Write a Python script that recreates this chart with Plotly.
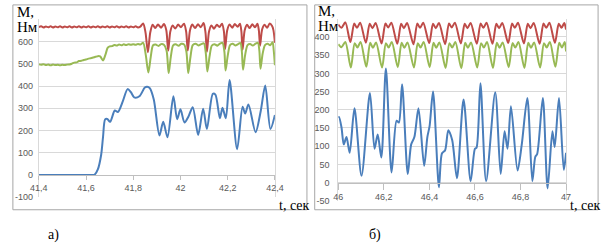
import plotly.graph_objects as go

# ---------------- panel a) ----------------
a_t_red = [41.400, 41.410, 41.420, 41.430, 41.440, 41.450, 41.460, 41.470, 41.480, 41.490,
           41.500, 41.510, 41.520, 41.530, 41.540, 41.550, 41.560, 41.570, 41.580, 41.590,
           41.600, 41.610, 41.620, 41.630, 41.640, 41.650, 41.660, 41.670, 41.680, 41.690,
           41.700, 41.710, 41.720, 41.730, 41.740, 41.750, 41.760, 41.770, 41.780, 41.790,
           41.800, 41.810, 41.820, 41.830, 41.842, 41.852, 41.862, 41.872, 41.882, 41.893,
           41.905, 41.918, 41.930, 41.940, 41.948, 41.957, 41.967, 41.978, 41.990, 42.002,
           42.015, 42.024, 42.031, 42.040, 42.050, 42.062, 42.074, 42.086, 42.098, 42.106,
           42.112, 42.121, 42.131, 42.142, 42.154, 42.165, 42.176, 42.184, 42.189, 42.198,
           42.208, 42.219, 42.230, 42.242, 42.252, 42.258, 42.263, 42.272, 42.282, 42.293,
           42.304, 42.316, 42.326, 42.332, 42.337, 42.346, 42.356, 42.367, 42.378, 42.388,
           42.394, 42.400]
a_red = [664, 668, 663, 667, 664, 668, 663, 667, 664, 668,
         663, 667, 664, 668, 663, 667, 664, 668, 663, 667,
         664, 668, 663, 667, 664, 668, 663, 667, 664, 668,
         663, 667, 664, 668, 663, 667, 664, 668, 663, 667,
         664, 668, 663, 667, 681, 640, 552, 640, 675, 660,
         676, 662, 678, 650, 559, 645, 672, 658, 676, 664,
         680, 645, 559, 648, 676, 660, 677, 664, 683, 640,
         554, 645, 672, 657, 675, 665, 680, 645, 566, 650,
         676, 662, 678, 666, 680, 645, 563, 650, 675, 660,
         677, 664, 680, 650, 581, 655, 675, 662, 681, 670,
         650, 594]

a_t_green = [41.400, 41.410, 41.420, 41.430, 41.440, 41.450, 41.460, 41.470, 41.480, 41.490,
             41.500, 41.510, 41.520, 41.530, 41.540, 41.550, 41.560, 41.570, 41.580, 41.590,
             41.600, 41.610, 41.620, 41.630, 41.640, 41.650, 41.660, 41.672, 41.682, 41.692,
             41.700, 41.710, 41.720, 41.730, 41.740, 41.750, 41.760, 41.770, 41.780, 41.790,
             41.800, 41.810, 41.820, 41.830, 41.842, 41.853, 41.864, 41.874, 41.884, 41.895,
             41.907, 41.918, 41.930, 41.941, 41.950, 41.959, 41.969, 41.980, 41.992, 42.004,
             42.016, 42.025, 42.033, 42.042, 42.052, 42.064, 42.076, 42.088, 42.099, 42.107,
             42.114, 42.123, 42.133, 42.144, 42.156, 42.167, 42.178, 42.186, 42.191, 42.200,
             42.210, 42.221, 42.232, 42.244, 42.254, 42.260, 42.265, 42.274, 42.284, 42.295,
             42.306, 42.318, 42.328, 42.334, 42.339, 42.348, 42.358, 42.369, 42.380, 42.390,
             42.395, 42.400]
a_green = [497, 495, 498, 494, 496, 493, 496, 494, 495, 493,
           495, 494, 496, 497, 500, 505, 506, 512, 513, 517,
           519, 523, 525, 528, 531, 534, 533, 515, 540, 572,
           578, 579, 584, 582, 586, 583, 587, 584, 588, 585,
           588, 585, 589, 586, 594, 540, 461, 530, 583, 586,
           580, 588, 585, 560, 458, 530, 582, 587, 581, 590,
           586, 555, 458, 528, 584, 590, 582, 588, 592, 550,
           465, 532, 582, 588, 581, 590, 594, 555, 470, 535,
           584, 590, 582, 588, 593, 555, 473, 540, 584, 589,
           582, 590, 594, 560, 478, 545, 584, 590, 583, 597,
           560, 493]

a_t_blue = [41.400, 41.500, 41.600, 41.625, 41.637, 41.650, 41.664, 41.672, 41.681, 41.690,
            41.702, 41.722, 41.735, 41.756, 41.776, 41.790, 41.804, 41.826, 41.849, 41.859,
            41.870, 41.887, 41.911, 41.927, 41.945, 41.970, 41.986, 42.000, 42.017, 42.034,
            42.052, 42.075, 42.096, 42.112, 42.137, 42.148, 42.167, 42.178, 42.192, 42.208,
            42.240, 42.263, 42.274, 42.288, 42.318, 42.340, 42.359, 42.381, 42.400]
a_blue = [0, 0, 0, 0, 2, 25, 90, 170, 250, 252,
          239, 290, 283, 332, 386, 372, 349, 354, 393, 397,
          390, 339, 178, 239, 170, 354, 251, 295, 236, 263,
          305, 180, 298, 207, 365, 361, 255, 302, 255, 427,
          116, 307, 277, 317, 192, 288, 402, 207, 270]

a_xticks = [41.4, 41.6, 41.8, 42.0, 42.2, 42.4]
a_xtext = ["41,4", "41,6", "41,8", "42", "42,2", "42,4"]
a_yticks = [-100, 0, 100, 200, 300, 400, 500, 600]
a_ytext = ["-100", "0", "100", "200", "300", "400", "500", "600"]

# ---------------- panel б) ----------------
b_t_red = [46.000, 46.014, 46.031, 46.053, 46.070, 46.082, 46.096, 46.121, 46.138, 46.150,
           46.164, 46.190, 46.207, 46.219, 46.233, 46.259, 46.276, 46.288, 46.302, 46.330,
           46.347, 46.359, 46.373, 46.399, 46.416, 46.428, 46.442, 46.469, 46.486, 46.498,
           46.512, 46.538, 46.555, 46.567, 46.581, 46.608, 46.625, 46.637, 46.651, 46.677,
           46.694, 46.706, 46.720, 46.746, 46.763, 46.775, 46.789, 46.815, 46.832, 46.844,
           46.858, 46.884, 46.901, 46.913, 46.927, 46.951, 46.968, 46.980, 46.992, 47.000]
b_red = [434, 425, 440, 386, 437, 425, 439, 384, 436, 424,
         438, 382, 437, 426, 439, 381, 436, 424, 438, 380,
         437, 425, 439, 383, 436, 424, 438, 380, 437, 426,
         439, 382, 436, 424, 438, 381, 437, 425, 439, 381,
         436, 424, 438, 383, 437, 425, 439, 382, 436, 424,
         438, 381, 437, 425, 439, 384, 436, 425, 438, 420]

b_t_green = [46.000, 46.014, 46.031, 46.055, 46.072, 46.084, 46.098, 46.123, 46.140, 46.152,
             46.166, 46.192, 46.209, 46.221, 46.235, 46.261, 46.278, 46.290, 46.304, 46.332,
             46.349, 46.361, 46.375, 46.401, 46.418, 46.430, 46.444, 46.471, 46.488, 46.500,
             46.514, 46.540, 46.557, 46.569, 46.583, 46.610, 46.627, 46.639, 46.653, 46.679,
             46.696, 46.708, 46.722, 46.748, 46.765, 46.777, 46.791, 46.817, 46.834, 46.846,
             46.860, 46.886, 46.903, 46.915, 46.929, 46.953, 46.970, 46.982, 46.994, 47.000]
b_green = [380, 372, 386, 316, 383, 371, 386, 318, 384, 370,
           385, 316, 383, 371, 386, 317, 384, 370, 385, 316,
           383, 371, 386, 317, 384, 370, 385, 315, 383, 371,
           386, 314, 384, 370, 385, 316, 383, 371, 386, 315,
           384, 370, 385, 317, 383, 371, 386, 315, 384, 370,
           385, 316, 383, 371, 386, 318, 384, 371, 386, 360]

b_t_blue = [46.000, 46.003, 46.014, 46.024, 46.036, 46.050, 46.071, 46.102, 46.139, 46.159,
            46.173, 46.189, 46.209, 46.234, 46.256, 46.266, 46.280, 46.305, 46.320, 46.334,
            46.352, 46.377, 46.391, 46.401, 46.416, 46.442, 46.455, 46.469, 46.483, 46.500,
            46.521, 46.550, 46.581, 46.600, 46.607, 46.624, 46.649, 46.689, 46.713, 46.730,
            46.743, 46.758, 46.787, 46.805, 46.830, 46.852, 46.865, 46.873, 46.898, 46.919,
            46.940, 46.950, 46.969, 46.990, 47.000]
b_blue = [178, 180, 152, 105, 125, 82, 204, 19, 246, 93,
          132, 69, 313, 28, 170, 165, 270, 24, 105, 125,
          204, 46, 125, 156, 250, -13, 80, 89, 144, 117,
          12, 228, 4, 93, 96, 273, 4, 248, 24, 141,
          93, 210, 33, 102, 232, 4, 71, 78, 232, -16,
          141, 98, 232, 35, 82]

b_xticks = [46.0, 46.2, 46.4, 46.6, 46.8, 47.0]
b_xtext = ["46", "46,2", "46,4", "46,6", "46,8", "47"]
b_yticks = [-50, 0, 50, 100, 150, 200, 250, 300, 350, 400]
b_ytext = ["-50", "0", "50", "100", "150", "200", "250", "300", "350", "400"]

BLUE = "#4a7ebb"
RED = "#be4b48"
GREEN = "#98b954"
W, H = 610, 252

def px(x):
    return x / W

def py(y):
    return 1 - y / H

fig = go.Figure()
line_kw = dict(shape="spline", smoothing=0.8, width=2)
fig.add_trace(go.Scatter(x=a_t_red, y=a_red, mode="lines", line=dict(color=RED, **line_kw), xaxis="x", yaxis="y"))
fig.add_trace(go.Scatter(x=a_t_green, y=a_green, mode="lines", line=dict(color=GREEN, **line_kw), xaxis="x", yaxis="y"))
fig.add_trace(go.Scatter(x=a_t_blue, y=a_blue, mode="lines", line=dict(color=BLUE, **line_kw), xaxis="x", yaxis="y"))
fig.add_trace(go.Scatter(x=b_t_red, y=b_red, mode="lines", line=dict(color=RED, **line_kw), xaxis="x2", yaxis="y2"))
fig.add_trace(go.Scatter(x=b_t_green, y=b_green, mode="lines", line=dict(color=GREEN, **line_kw), xaxis="x2", yaxis="y2"))
fig.add_trace(go.Scatter(x=b_t_blue, y=b_blue, mode="lines", line=dict(color=BLUE, **line_kw), xaxis="x2", yaxis="y2"))

tickfont = dict(family="Liberation Sans, Arial, sans-serif", size=9, color="#595959")
grid = "#d9d9d9"

xa = dict(showgrid=False, zeroline=False, showline=True, linecolor="#bfbfbf", linewidth=1,
          ticks="outside", ticklen=4, tickcolor="#bfbfbf", tickfont=tickfont, anchor="free")
ya = dict(showgrid=True, gridcolor=grid, gridwidth=1, zeroline=False, showline=True,
          linecolor=grid, mirror=True, ticks="", tickfont=tickfont)

fig.update_layout(
    width=W, height=H, margin=dict(l=0, r=0, t=0, b=0),
    paper_bgcolor="white", plot_bgcolor="white", showlegend=False,
    xaxis=dict(xa, domain=[px(30.7), px(274)], range=[41.4, 42.4],
               tickvals=a_xticks, ticktext=a_xtext, position=py(178.7)),
    yaxis=dict(ya, domain=[py(201.3), py(19.6)], range=[-100, 700],
               tickvals=a_yticks, ticktext=a_ytext, anchor="x", ticklabelstandoff=3),
    xaxis2=dict(xa, domain=[px(339.3), px(574)], range=[46.0, 47.0],
                tickvals=b_xticks, ticktext=b_xtext, position=py(186.3), ticklen=6),
    yaxis2=dict(ya, domain=[py(204.9), py(19.1)], range=[-50, 450],
                tickvals=b_yticks, ticktext=b_ytext, anchor="x2", ticklabelstandoff=6),
)

# frames around each panel
for x0, x1 in [(4, 307), (315, 607)]:
    fig.add_shape(type="rect", xref="paper", yref="paper",
                  x0=px(x0), x1=px(x1), y0=py(214), y1=py(5),
                  line=dict(color="#a6a6a6", width=1), fillcolor="rgba(0,0,0,0)", layer="below")

serif = dict(family="Liberation Serif, Times New Roman, serif", color="#000000")
texts = [
    ("М,", 6, 12, 15, "left"),
    ("Нм", 6, 28, 15, "left"),
    ("t, сек", 276, 210, 14, "left"),
    ("а)", 46, 240, 14, "center"),
    ("М,", 316, 11, 15, "left"),
    ("Нм", 316, 27, 15, "left"),
    ("t, сек", 576, 210, 14, "left"),
    ("б)", 377, 240, 14, "center"),
]
for txt, x, y, size, anchor in texts:
    fig.add_annotation(text=txt, x=px(x), y=py(y), xref="paper", yref="paper",
                       xanchor=anchor, yanchor="middle", showarrow=False,
                       font=dict(serif, size=size))

fig.write_html("out.html", post_script="document.body.style.margin='0';",
               config={"displayModeBar": False, "staticPlot": True})
